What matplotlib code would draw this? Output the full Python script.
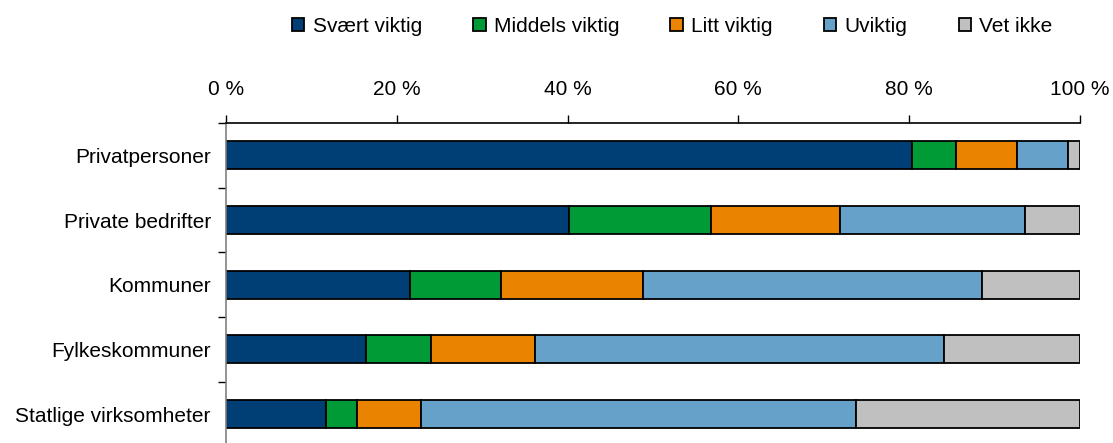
import numpy as np
import matplotlib.pyplot as plt
from matplotlib.ticker import FixedLocator

plt.rcParams['font.family'] = ['Liberation Sans', 'DejaVu Sans']

# Data (percent)
categories = ['Privatpersoner', 'Private bedrifter', 'Kommuner',
              'Fylkeskommuner', 'Statlige virksomheter']
series_names = ['Svært viktig', 'Middels viktig', 'Litt viktig', 'Uviktig', 'Vet ikke']
svaert_viktig = [80.3, 40.2, 21.6, 16.4, 11.7]
middels_viktig = [5.2, 16.6, 10.6, 7.6, 3.6]
litt_viktig = [7.2, 15.1, 16.7, 12.2, 7.5]
uviktig = [5.9, 21.7, 39.7, 47.9, 51.0]
vet_ikke = [1.4, 6.4, 11.4, 15.9, 26.2]
xticks = [0, 20, 40, 60, 80, 100]

colors = ['#003F76', '#009A36', '#E98300', '#66A1C9', '#C0C0C0']

fig = plt.figure(figsize=(11.13, 4.43), dpi=100)
ax = fig.add_axes([0.2031, -0.0077, 0.7670, 0.7300])

y = np.arange(len(categories))
left = np.zeros(len(categories))
for name, vals, col in zip(series_names,
                           [svaert_viktig, middels_viktig, litt_viktig, uviktig, vet_ikke],
                           colors):
    ax.barh(y, vals, left=left, height=0.43, color=col, edgecolor='black',
            linewidth=1.3, label=name)
    left += np.array(vals)

ax.set_xlim(0, 100)
ax.set_ylim(len(categories) - 0.5, -0.5)

# x axis on top
ax.xaxis.tick_top()
ax.set_xticks(xticks)
ax.set_xticklabels([f'{t} %' for t in xticks])
ax.tick_params(axis='x', direction='out', length=6, width=1, color='black',
               pad=11.5, labelsize=15)

# category labels centered, ticks at boundaries
ax.set_yticks(y)
ax.set_yticklabels(categories)
ax.tick_params(axis='y', which='major', length=0, pad=11, labelsize=15)
ax.yaxis.set_minor_locator(FixedLocator(np.arange(-0.5, len(categories), 1.0)))
ax.tick_params(axis='y', which='minor', direction='out', length=6, width=1, color='black')

for s in ['right', 'bottom']:
    ax.spines[s].set_visible(False)
ax.spines['top'].set_color('black')
ax.spines['top'].set_linewidth(1.2)
ax.spines['left'].set_color('#808080')
ax.spines['left'].set_linewidth(1.2)

fig.legend(loc='center', bbox_to_anchor=(0.604, 0.941), ncol=5, frameon=False,
           fontsize=15, handlelength=0.6, handleheight=0.6, handletextpad=0.4,
           columnspacing=2.45)

fig.savefig('out.png', dpi=100)
